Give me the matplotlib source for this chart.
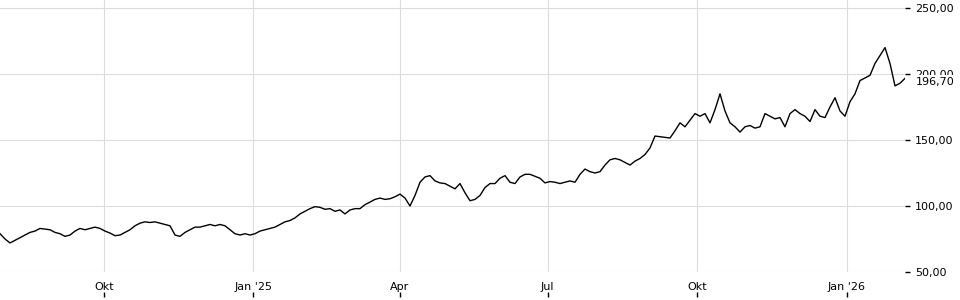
import matplotlib
matplotlib.use("Agg")
import matplotlib.pyplot as plt
import matplotlib.dates as mdates
import pandas as pd

# price series, every 3 days
start_date = "2024-07-29"
end_date = "2026-02-06"
prices = [
    79, 75, 72, 74, 76, 78, 80, 81, 83, 82.5,
    82, 80, 79, 77, 78, 81, 83, 82, 83, 84,
    83, 81, 79.5, 77.5, 78, 80, 82, 85, 87, 88,
    87.5, 88, 87, 86, 85, 78, 77, 80, 82, 84,
    84, 85, 86, 85, 86, 85, 82, 79, 78, 79,
    78, 79, 81, 82, 83, 84, 86, 88, 89, 91,
    94, 96, 98, 99.5, 99, 97.5, 98, 96, 97, 94,
    97, 98, 98, 101, 103, 105, 106, 105, 105.5, 107,
    109, 106, 100, 108, 118, 122, 123, 119, 117.5, 117,
    115, 113, 117, 110, 104, 105, 108, 114, 117, 117,
    121, 123, 118, 117, 122, 124, 124, 122.5, 121, 117.5,
    118.5, 118, 117, 118, 119, 118, 124, 128, 126, 125,
    126, 131, 135, 136, 135, 133, 131, 134, 136, 139,
    144, 153, 152.5, 152, 151.5, 157, 163, 160, 165, 170,
    168, 170, 163, 173, 185, 172, 163, 160, 156, 160,
    161, 159, 160, 170, 168, 166, 167, 160, 170, 173,
    170, 168, 164, 173, 168, 167, 175, 182, 172, 168,
    179, 185, 195, 197, 199, 208, 214, 220, 208, 191,
    193, 196.7,
]
last_price = 196.7

tick_dates = ["2024-10-01", "2025-01-01", "2025-04-01", "2025-07-01", "2025-10-01", "2026-01-01"]
tick_labels = ["Okt", "Jan '25", "Apr", "Jul", "Okt", "Jan '26"]
y_ticks = [50, 100, 150, 200, 250]

dates = pd.date_range(start_date, end_date, periods=len(prices))

fig = plt.figure(figsize=(9.6, 3), dpi=100)
ax = fig.add_axes([0, 1 - 272 / 300, 905 / 960, 272 / 300])

ax.plot(dates, prices, color="black", lw=1.0)

ax.set_xlim(pd.Timestamp(start_date), pd.Timestamp(end_date))
ax.set_ylim(50, 256.06)

for s in ax.spines.values():
    s.set_visible(False)

ax.grid(True, color="#dcdcdc", lw=0.8)
ax.set_axisbelow(True)

xt = [mdates.date2num(pd.Timestamp(d)) for d in tick_dates]
ax.set_xticks(xt)
ax.set_xticklabels(tick_labels)
ax.tick_params(axis="x", length=0, pad=7, labelsize=8)

# small tick marks under the month labels
sec = ax.secondary_xaxis(-20 / 272)
sec.set_xticks(xt)
sec.set_xticklabels([])
sec.spines["bottom"].set_visible(False)
sec.tick_params(axis="x", direction="out", length=3.5, width=1, color="black")

ax.yaxis.tick_right()
ax.set_yticks(y_ticks)
ax.set_yticklabels([f"{v:.2f}".replace(".", ",") for v in y_ticks])
ax.tick_params(axis="y", direction="out", length=3.5, width=1, pad=3.5, labelsize=8, color="black")

# current price label, covers the lower half of the 200 label
ax.annotate(f"{last_price:.2f}".replace(".", ","), xy=(1, last_price),
            xycoords=("axes fraction", "data"), xytext=(8.0, -2.8),
            textcoords="offset points", va="center", ha="left", fontsize=8,
            bbox=dict(boxstyle="square,pad=0.2", fc="white", ec="none"),
            annotation_clip=False)

fig.savefig("out.png", dpi=100)
